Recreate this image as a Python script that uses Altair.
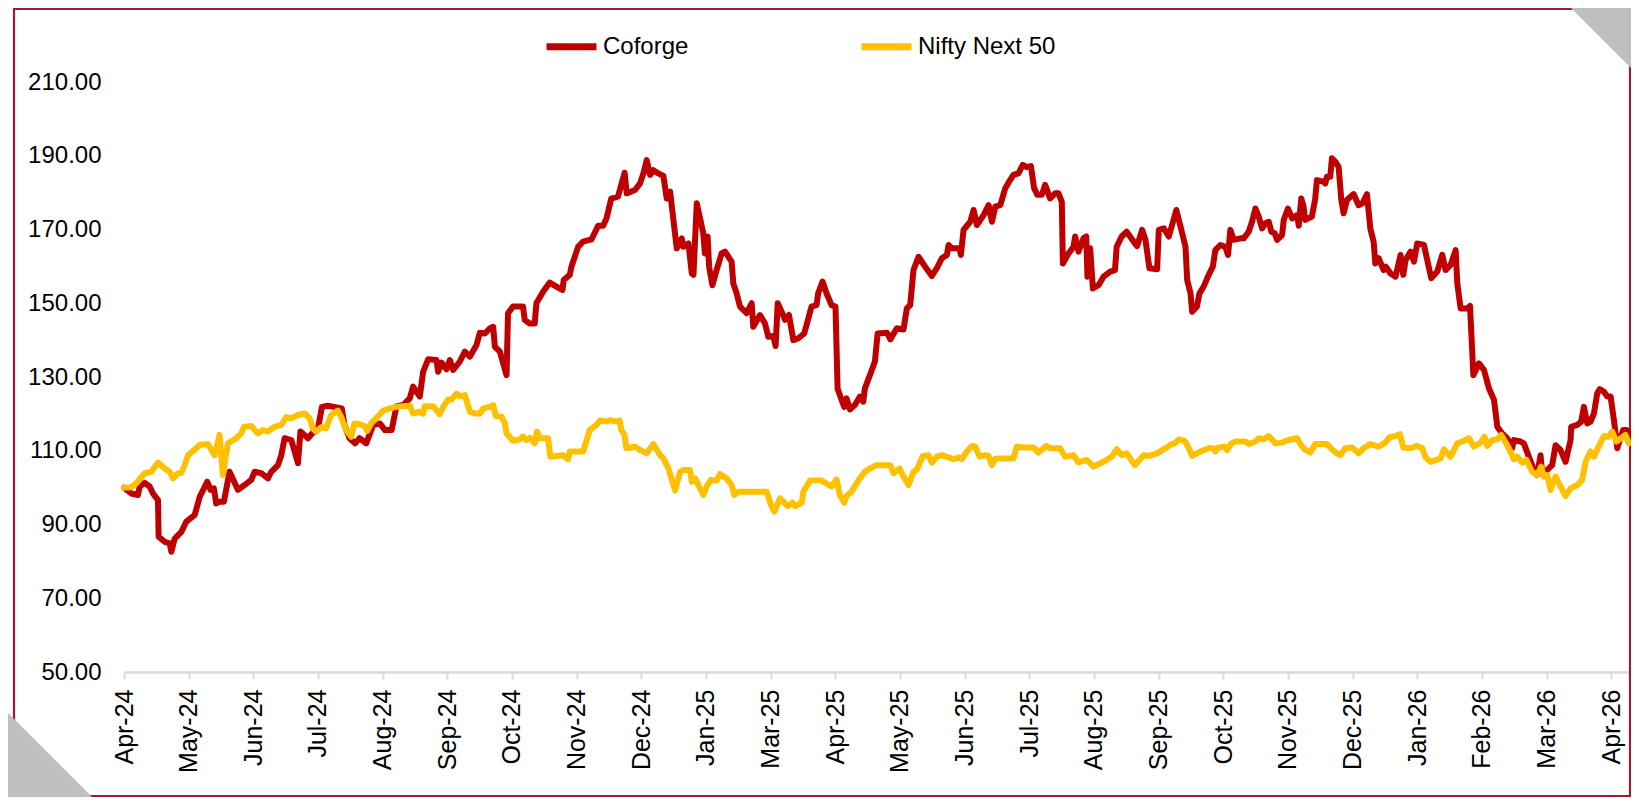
import altair as alt
import pandas as pd

START = "2024-04-25"
END = "2026-04-17"

# (days since START, rebased value)
COFORGE = [
    (0.0,100.0),(3.5,98.4),(6.7,98.0),(7.5,100.3),(9.9,101.3),(12.3,100.3),(13.9,98.4),(16.3,96.6),(16.6,86.7),(19.5,85.3),
    (21.9,84.9),(22.7,82.6),(24.3,86.2),(27.5,88.0),(29.9,90.8),(33.9,92.6),(36.3,97.5),(39.9,101.6),(41.5,99.4),(43.1,99.8),
    (44.2,95.7),(45.8,96.2),(47.9,96.2),(50.6,104.3),(54.6,99.4),(57.8,100.7),(61.0,102.1),(62.6,104.3),(65.8,103.9),(69.0,102.5),
    (70.6,104.3),(73.8,106.1),(75.4,108.8),(77.0,113.4),(80.2,112.9),(81.8,109.8),(83.4,106.6),(84.6,115.2),(88.2,113.4),(90.5,114.9),
    (92.9,115.8),(94.9,121.9),(97.7,122.2),(102.5,121.7),(104.4,121.5),(105.7,117.0),(108.1,113.4),(110.8,112.0),(112.9,113.4),(116.1,112.0),
    (119.5,117.0),(122.7,117.4),(125.1,115.6),(128.3,115.6),(130.6,122.0),(133.8,122.4),(137.0,124.2),(138.6,127.4),(141.8,124.7),(143.4,131.4),
    (145.8,134.8),(149.8,134.6),(150.6,131.4),(152.2,133.9),(154.6,132.1),(156.2,134.6),(157.8,131.9),(161.0,134.2),(163.4,136.9),(165.8,135.5),
    (169.0,138.7),(170.6,142.0),(173.0,141.8),(175.4,143.2),(177.0,143.6),(177.8,138.2),(180.2,136.9),(181.8,133.7),(183.4,130.5),(184.1,147.3),
    (186.5,149.1),(191.3,149.1),(192.1,145.5),(194.5,144.5),(196.9,144.5),(197.7,150.0),(200.9,153.1),(204.1,155.6),(207.3,154.5),(210.2,153.6),
    (210.8,156.3),(213.7,157.7),(214.5,159.9),(217.7,165.3),(220.1,166.7),(224.1,167.3),(227.3,171.0),(229.7,171.0),(231.3,173.0),(233.6,178.4),
    (236.8,178.9),(240.0,185.4),(241.0,179.8),(245.0,180.7),(247.4,182.5),(249.0,185.2),(250.6,188.8),(252.2,184.8),(253.8,186.1),(256.2,185.2),
    (258.6,184.5),(260.2,178.4),(261.8,180.3),(265.0,164.9),(267.4,167.6),(268.2,165.3),(270.6,166.2),(272.2,158.1),(273.0,157.7),(274.6,177.1),
    (277.7,169.0),(278.5,163.5),(279.8,168.1),(280.5,159.9),(282.1,154.9),(284.1,159.0),(286.5,163.5),(288.1,164.0),(291.3,161.3),(292.1,155.4),
    (293.7,152.7),(295.3,149.1),(298.5,147.3),(300.9,150.0),(301.7,143.6),(304.9,146.8),(307.3,144.5),(308.9,140.9),(311.3,141.1),(312.4,138.4),
    (313.4,150.0),(315.6,147.3),(316.9,145.5),(318.8,146.8),(320.9,140.0),(323.3,140.5),(326.1,141.8),(328.1,145.9),(329.6,149.1),(332.0,149.5),
    (332.8,152.7),(334.9,155.9),(336.8,152.7),(339.2,149.5),(341.1,149.1),(342.1,126.9),(344.0,123.8),(345.3,121.9),(346.4,124.2),(348.0,121.2),
    (350.4,122.4),(352.8,124.7),(354.4,123.3),(355.2,126.9),(357.6,130.5),(360.0,134.2),(361.3,141.8),(365.8,142.0),(367.4,140.2),(370.5,143.2),
    (373.7,142.9),(375.3,148.6),(376.9,149.5),(378.5,159.0),(380.9,162.6),(384.1,159.9),(387.3,157.4),(389.7,159.5),(392.1,162.2),(394.5,163.1),
    (395.3,165.8),(396.9,164.9),(400.6,164.9),(401.2,163.1),(402.5,169.9),(405.7,172.1),(407.3,175.3),(408.9,171.2),(412.1,173.9),(414.5,176.6),
    (416.1,172.1),(417.7,176.2),(420.1,176.6),(422.5,181.2),(424.8,183.4),(426.4,184.8),(428.8,185.2),(430.9,187.5),(432.8,186.9),(434.8,187.2),
    (436.3,181.2),(437.9,179.4),(440.0,179.4),(441.6,182.1),(444.0,178.4),(446.4,179.8),(448.0,179.8),(449.6,177.5),(450.1,160.8),(452.8,163.5),
    (455.2,165.3),(456.0,168.1),(457.6,164.0),(460.0,167.6),(461.3,168.1),(461.9,157.2),(463.2,164.9),(464.5,154.0),(467.2,154.9),(469.6,157.2),
    (472.8,158.6),(475.1,159.0),(475.9,165.3),(478.3,168.1),(480.7,169.4),(484.1,166.7),(485.7,165.5),(488.1,169.9),(489.7,167.2),(491.6,159.5),
    (495.3,159.2),(496.1,169.9),(498.5,170.3),(500.9,168.1),(504.5,175.3),(506.5,170.8),(508.9,165.3),(509.7,156.3),(511.3,152.7),(512.1,147.7),
    (514.4,149.1),(515.6,152.7),(517.6,154.5),(520.0,157.7),(522.0,159.9),(523.2,164.4),(525.6,165.8),(528.0,165.3),(529.3,163.1),(530.4,169.9),
    (532.0,167.2),(535.2,167.6),(536.8,167.6),(539.2,169.4),(540.8,172.1),(542.4,175.7),(544.0,173.5),(545.6,170.3),(547.2,171.7),(548.8,172.1),
    (550.1,169.4),(551.7,169.0),(552.8,167.2),(555.2,168.5),(556.0,172.6),(558.0,175.7),(560.0,173.0),(562.4,173.9),(563.2,171.0),(564.4,178.4),
    (565.5,176.2),(566.3,172.6),(569.5,173.5),(571.1,178.4),(571.9,183.4),(575.1,183.0),(575.9,182.5),(576.7,184.3),(578.3,184.3),(579.1,189.3),
    (580.7,188.4),(582.3,187.0),(583.6,178.0),(584.7,174.4),(586.3,178.0),(589.5,179.6),(591.9,176.6),(593.8,177.1),(595.9,179.6),(597.5,170.3),
    (599.1,166.7),(599.9,160.8),(601.5,162.2),(603.9,159.0),(604.9,159.9),(607.2,158.1),(609.6,157.2),(612.0,163.1),(613.3,157.7),(614.4,161.7),
    (616.8,164.0),(618.4,161.3),(620.0,166.2),(623.2,165.8),(624.8,161.7),(626.7,156.8),(629.6,158.6),(632.0,163.1),(633.6,159.0),(636.0,160.4),
    (638.4,164.4),(639.2,155.4),(640.8,148.6),(644.0,148.6),(645.3,149.3),(646.9,130.5),(649.6,133.7),(652.0,131.9),(654.4,126.9),(656.8,123.8),
    (658.4,116.5),(660.7,114.7),(663.1,113.4),(665.5,110.7),(666.3,112.9),(669.5,112.5),(671.1,112.0),(675.9,104.8),(677.5,103.4),(679.1,108.8),
    (679.9,103.9),(682.3,104.8),(684.7,106.1),(686.3,111.5),(688.7,110.2),(691.1,107.0),(693.5,112.9),(693.8,116.5),(696.7,117.0),(698.6,117.9),
    (699.9,121.9),(701.5,117.4),(703.1,117.9),(704.7,120.1),(706.3,125.6),(707.5,126.7),(709.5,126.0),(711.1,124.7),(712.7,124.7),(714.3,118.3),
    (715.9,110.7),(717.1,112.9),(718.7,115.6),(720.3,115.6),(722.2,114.7),
]

NIFTY_NEXT_50 = [
    (0.0,100.0),(3.5,100.1),(5.9,101.2),(9.9,103.9),(13.1,104.3),(16.3,106.8),(19.5,105.2),(21.9,104.3),(23.5,102.5),(25.9,103.9),
    (27.5,104.0),(29.1,106.1),(30.7,108.8),(34.7,110.7),(36.3,111.6),(40.2,111.8),(43.4,108.8),(45.8,114.3),(47.4,103.4),(49.8,112.0),
    (53.8,113.4),(56.2,114.7),(57.5,116.5),(61.0,116.7),(64.2,114.7),(66.6,115.6),(69.0,115.2),(72.2,116.5),(75.4,117.0),(77.8,119.1),
    (80.2,118.8),(83.4,119.7),(86.6,120.1),(89.0,118.8),(90.5,116.1),(92.1,115.2),(94.5,116.4),(96.9,116.1),(99.3,119.7),(102.5,120.9),
    (104.1,119.2),(106.5,115.6),(108.9,113.8),(110.5,117.4),(112.9,117.2),(115.3,116.7),(116.6,115.4),(118.5,117.4),(120.9,118.8),(124.3,120.9),
    (127.5,121.5),(130.6,121.9),(133.8,122.1),(137.0,122.2),(138.6,120.1),(141.8,120.6),(143.4,120.1),(144.2,122.1),(148.2,122.1),(151.4,119.9),
    (153.0,121.9),(155.4,123.9),(157.0,123.9),(159.4,125.5),(161.0,124.8),(163.4,125.1),(165.8,120.6),(168.2,120.1),(170.6,120.1),(172.2,121.5),
    (175.4,121.9),(177.0,122.4),(178.2,119.4),(181.0,119.2),(182.6,117.4),(183.4,114.7),(186.5,112.7),(189.7,113.1),(191.3,113.8),(192.9,112.9),
    (194.5,113.5),(196.9,112.0),(198.0,115.2),(199.3,113.4),(203.3,113.4),(204.4,108.4),(207.3,108.6),(210.5,108.8),(212.9,107.7),(213.7,109.8),
    (220.1,109.8),(223.3,115.6),(226.5,117.0),(228.1,118.2),(231.3,117.9),(232.9,118.3),(236.1,117.9),(237.6,118.2),(238.4,115.6),(240.0,114.3),
    (240.8,110.7),(245.0,111.1),(247.4,110.2),(250.6,109.3),(253.8,111.8),(257.0,108.8),(258.6,107.9),(261.0,105.2),(264.2,99.2),(266.6,104.3),
    (268.2,104.8),(271.4,104.8),(272.2,101.6),(273.8,102.5),(277.7,98.0),(279.3,100.3),(281.4,102.1),(284.1,101.9),(285.7,103.7),(288.9,102.5),
    (291.3,100.7),(292.6,98.0),(294.5,98.9),(308.1,98.9),(310.2,95.3),(311.8,93.5),(314.5,97.1),(318.2,95.0),(320.4,95.9),(321.7,95.0),
    (324.9,95.9),(325.7,98.9),(328.9,101.9),(334.4,101.9),(339.2,100.3),(341.6,102.2),(343.2,98.0),(345.3,95.9),(346.4,97.7),(348.8,98.9),
    (351.2,101.2),(352.8,102.5),(355.2,104.3),(357.6,105.2),(360.8,106.1),(367.4,106.1),(369.0,103.9),(371.8,105.2),(373.7,103.0),(376.1,100.7),
    (378.5,104.3),(380.1,104.9),(383.0,108.6),(385.7,108.8),(387.3,106.8),(389.7,108.4),(392.1,108.8),(395.3,108.2),(397.7,107.7),(400.1,108.2),
    (401.7,107.7),(404.1,109.8),(406.5,111.3),(408.1,111.1),(410.2,108.4),(412.9,108.8),(414.5,108.6),(416.1,106.1),(417.7,107.9),(426.4,107.9),
    (428.0,111.1),(431.2,110.9),(436.0,110.9),(438.4,109.5),(442.1,111.3),(444.0,110.7),(448.8,110.7),(451.2,108.4),(455.2,108.8),(457.6,106.8),
    (460.0,107.3),(461.6,107.5),(464.8,105.7),(469.6,107.0),(473.6,108.4),(476.0,110.4),(478.3,108.8),(480.7,109.3),(484.6,106.1),(488.9,108.8),
    (491.3,108.6),(495.3,109.3),(499.3,110.7),(501.7,111.6),(504.1,112.2),(505.7,113.1),(508.5,112.7),(510.5,110.7),(512.1,108.6),(516.0,109.8),
    (520.0,110.7),(522.4,110.7),(523.2,109.8),(524.8,110.9),(528.0,111.1),(528.8,110.2),(530.9,112.0),(532.8,112.5),(537.6,112.5),(539.5,111.8),
    (542.4,112.5),(544.0,113.4),(546.4,113.1),(548.8,114.0),(552.0,112.0),(555.2,112.2),(556.8,112.7),(562.4,113.4),(564.0,111.8),(566.0,110.4),
    (568.7,109.5),(571.1,111.8),(576.7,111.8),(579.1,110.4),(581.5,109.3),(583.1,108.8),(585.5,110.7),(588.7,110.9),(591.9,109.3),(594.3,110.7),
    (597.5,111.8),(601.5,111.1),(604.7,112.2),(606.5,113.6),(609.6,114.0),(611.7,114.5),(613.3,110.9),(616.8,110.7),(620.0,111.3),(622.4,110.7),
    (624.0,108.2),(626.4,107.0),(631.2,107.9),(632.8,110.4),(636.0,108.4),(639.2,112.0),(641.6,112.5),(644.8,113.4),(647.2,111.1),(650.4,112.2),
    (652.3,113.8),(653.6,111.3),(656.0,112.9),(658.4,113.1),(660.3,114.3),(663.1,111.5),(664.7,109.8),(666.3,107.7),(667.9,108.4),(670.3,106.8),
    (672.4,107.5),(673.5,106.1),(675.1,104.3),(677.5,103.4),(679.4,105.7),(680.7,103.0),(682.3,103.4),(683.9,99.4),(686.3,103.0),(688.7,100.3),
    (691.1,97.7),(693.5,99.8),(696.7,100.7),(699.1,102.1),(700.7,107.0),(703.1,109.8),(704.7,108.4),(707.1,111.3),(709.5,114.0),(711.8,113.8),
    (713.4,115.2),(715.5,112.5),(718.2,113.6),(719.8,114.3),(721.4,112.0),
]

SERIES = ["Coforge", "Nifty Next 50"]
COLORS = ["#C00000", "#FFC000"]

TICK_DATES = [
    "2024-04-25", "2024-05-26", "2024-06-26", "2024-07-27", "2024-08-27", "2024-09-27",
    "2024-10-28", "2024-11-28", "2024-12-29", "2025-01-29", "2025-03-01", "2025-04-01",
    "2025-05-02", "2025-06-02", "2025-07-03", "2025-08-03", "2025-09-03", "2025-10-04",
    "2025-11-04", "2025-12-05", "2026-01-05", "2026-02-05", "2026-03-08", "2026-04-08",
]
Y_TICKS = [50, 70, 90, 110, 130, 150, 170, 190, 210]

FONT = "Liberation Sans Narrow, Arial Narrow, Liberation Sans, Arial"
BORDER = "#9E1B32"


def dt(s):
    t = pd.Timestamp(s)
    return alt.DateTime(year=t.year, month=t.month, date=t.day)


rows = []
for name, pts in zip(SERIES, [COFORGE, NIFTY_NEXT_50]):
    for i, (d, v) in enumerate(pts):
        rows.append({
            "series": name,
            "date": pd.Timestamp(START) + pd.Timedelta(days=d),
            "value": v,
            "i": i,
        })
df = pd.DataFrame(rows)

W, H = 1506, 590

lines = alt.Chart(df).mark_line(strokeWidth=6, strokeJoin="round", strokeCap="round").encode(
    x=alt.X(
        "date:T",
        title=None,
        scale=alt.Scale(domain=[dt(START), dt(END)]),
        axis=alt.Axis(
            values=[dt(s) for s in TICK_DATES],
            format="%b-%y",
            labelAngle=-90,
            labelFontSize=25,
            labelFont=FONT,
            labelColor="#000000",
            labelPadding=10,
            labelFlush=False,
            labelOverlap=False,
            domainColor="#D9D9D9",
            domainWidth=2.5,
            tickColor="#D9D9D9",
            tickWidth=2,
            tickSize=7,
            grid=False,
        ),
    ),
    y=alt.Y(
        "value:Q",
        title=None,
        scale=alt.Scale(domain=[50, 210], nice=False, zero=False),
        axis=alt.Axis(
            values=Y_TICKS,
            format=".2f",
            labelFontSize=24,
            labelFont=FONT,
            labelColor="#000000",
            labelPadding=23,
            domain=False,
            ticks=False,
            grid=False,
        ),
    ),
    color=alt.Color(
        "series:N",
        scale=alt.Scale(domain=SERIES, range=COLORS),
        legend=alt.Legend(
            title=None,
            orient="none",
            legendX=419,
            legendY=-64,
            direction="horizontal",
            symbolType="stroke",
            symbolSize=2500,
            symbolStrokeWidth=7,
            labelFontSize=24,
            labelFont=FONT,
            labelColor="#000000",
            labelOffset=3,
            columnPadding=158,
            padding=0,
            labelLimit=400,
        ),
    ),
    order="i:Q",
)

one = pd.DataFrame({"k": [0]})

frame = alt.Chart(one).mark_rect(fillOpacity=0, stroke=BORDER, strokeWidth=2.2).encode(
    x=alt.value(-110), x2=alt.value(1506), y=alt.value(-73), y2=alt.value(714)
)

tri_tr = alt.Chart(one).mark_point(
    shape="M-1,-1L1,-1L1,1Z", filled=True, color="#BFBFBF", opacity=1, size=3600
).encode(x=alt.value(1477), y=alt.value(-44))

tri_bl = alt.Chart(one).mark_point(
    shape="M-1,-1L-1,1L1,1Z", filled=True, color="#BFBFBF", opacity=1, size=7056
).encode(x=alt.value(-74), y=alt.value(673))

chart = alt.layer(frame, tri_tr, tri_bl, lines).properties(
    width=W, height=H,
    autosize=alt.AutoSizeParams(type="none"),
    padding={"left": 116, "top": 74, "right": 1, "bottom": 125},
    background="white",
).configure_view(stroke=None)

chart.save("out.html", embed_options={"renderer": "svg", "actions": False})
